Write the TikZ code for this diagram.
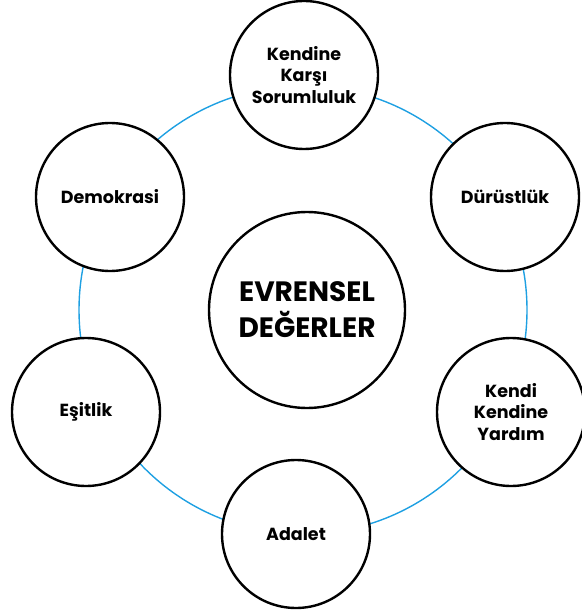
\documentclass[tikz,border=0pt]{standalone}
\usepackage{fontspec}
\setmainfont{Poppins}
\definecolor{ringblue}{RGB}{30,160,226}

\begin{document}
\begin{tikzpicture}[
  x=1pt, y=-1pt,
  value/.style={
    circle,
    draw,
    line width=2.4pt,
    fill=white,
    minimum size=148pt,
    inner sep=0pt,
    align=center,
    font=\fontsize{17.5}{21.5}\selectfont\bfseries
  },
  core/.style={
    value,
    minimum size=196pt,
    font=\fontsize{28}{36}\selectfont\bfseries
  },
  ring/.style={draw=ringblue, line width=1.4pt}
]
\useasboundingbox (0,0) rectangle (581,612);

% ring behind the values
\coordinate (mid) at (303,310);
\draw[ring] (mid) circle[radius=224];

\node[core] (center) at (307,310) {EVRENSEL\\DEĞERLER};

\node[value] (sorumluluk) at (304,75) {Kendine\\Karşı\\Sorumluluk};
\node[value] (durustluk) at (505,197) {Dürüstlük};
\node[value] (yardim) at (511,412) {Kendi\\Kendine\\Yardım};
\node[value] (adalet) at (296,534) {Adalet};
\node[value] (esitlik) at (86,412) {Eşitlik};
\node[value] (demokrasi) at (110,197) {Demokrasi};
\end{tikzpicture}
\end{document}
